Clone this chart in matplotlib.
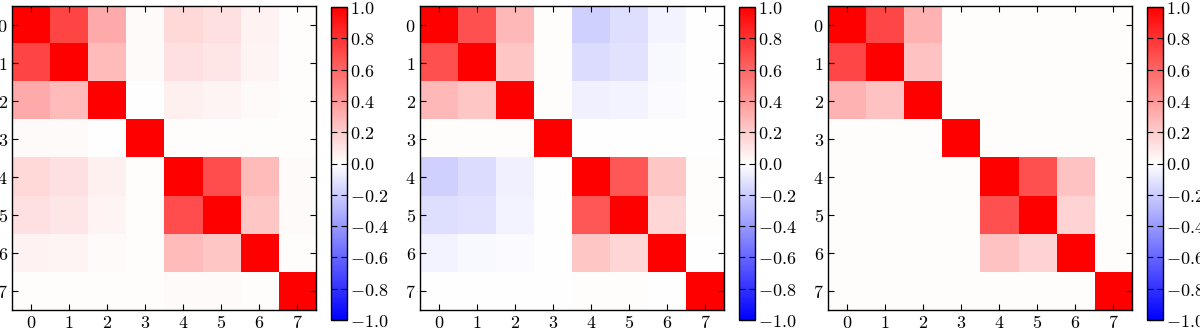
import numpy as np
import matplotlib
matplotlib.use('Agg')
import matplotlib.pyplot as plt
from matplotlib.ticker import FuncFormatter

plt.rcParams['mathtext.fontset'] = 'cm'
plt.rcParams['font.family'] = 'serif'
plt.rcParams['font.serif'] = ['DejaVu Serif']

labels = list(range(8))

# correlation matrices
corr_a = [
    [1.00, 0.73, 0.33, 0.02, 0.15, 0.12, 0.05, 0.01],
    [0.73, 1.00, 0.27, 0.02, 0.12, 0.10, 0.04, 0.01],
    [0.33, 0.27, 1.00, 0.00, 0.06, 0.04, 0.02, 0.01],
    [0.02, 0.02, 0.00, 1.00, 0.01, 0.01, 0.01, 0.01],
    [0.15, 0.12, 0.06, 0.01, 1.00, 0.70, 0.27, 0.02],
    [0.12, 0.10, 0.04, 0.01, 0.70, 1.00, 0.22, 0.02],
    [0.05, 0.04, 0.02, 0.01, 0.27, 0.22, 1.00, 0.01],
    [0.01, 0.01, 0.01, 0.01, 0.02, 0.02, 0.01, 1.00],
]
corr_b = [
    [1.00, 0.68, 0.28, 0.01, -0.18, -0.13, -0.04, 0.00],
    [0.68, 1.00, 0.22, 0.01, -0.14, -0.11, -0.03, 0.00],
    [0.28, 0.22, 1.00, 0.01, -0.06, -0.04, -0.02, 0.00],
    [0.01, 0.01, 0.01, 1.00, 0.00, 0.00, 0.00, 0.00],
    [-0.18, -0.14, -0.06, 0.00, 1.00, 0.66, 0.22, 0.01],
    [-0.13, -0.11, -0.04, 0.00, 0.66, 1.00, 0.16, 0.01],
    [-0.04, -0.03, -0.02, 0.00, 0.22, 0.16, 1.00, 0.00],
    [0.00, 0.00, 0.00, 0.00, 0.01, 0.01, 0.00, 1.00],
]
corr_c = [
    [1.00, 0.72, 0.30, 0.01, 0.01, 0.01, 0.01, 0.01],
    [0.72, 1.00, 0.24, 0.01, 0.01, 0.01, 0.01, 0.01],
    [0.30, 0.24, 1.00, 0.01, 0.01, 0.01, 0.01, 0.01],
    [0.01, 0.01, 0.01, 1.00, 0.01, 0.01, 0.01, 0.01],
    [0.01, 0.01, 0.01, 0.01, 1.00, 0.68, 0.24, 0.01],
    [0.01, 0.01, 0.01, 0.01, 0.68, 1.00, 0.17, 0.01],
    [0.01, 0.01, 0.01, 0.01, 0.24, 0.17, 1.00, 0.01],
    [0.01, 0.01, 0.01, 0.01, 0.01, 0.01, 0.01, 1.00],
]
cbar_ticks = [-1.0, -0.8, -0.6, -0.4, -0.2, 0.0, 0.2, 0.4, 0.6, 0.8, 1.0]

W, H = 1200, 328
fig = plt.figure(figsize=(W / 100, H / 100), dpi=100)

int_fmt = FuncFormatter(lambda v, p: r'$%d$' % v)
cb_fmt = FuncFormatter(lambda v, p: r'$%.1f$' % v)

lefts = [12, 420, 828]
for left, data in zip(lefts, [corr_a, corr_b, corr_c]):
    ax = fig.add_axes([left / W, (H - 310) / H, 304 / W, 304 / H])
    im = ax.imshow(np.array(data), cmap='bwr', vmin=-1, vmax=1,
                   interpolation='nearest', aspect='auto')
    ax.set_xticks(labels)
    ax.set_yticks(labels)
    ax.xaxis.set_major_formatter(int_fmt)
    ax.yaxis.set_major_formatter(int_fmt)
    ax.tick_params(direction='in', top=True, right=True, length=4,
                   labelsize=13, pad=3)
    for s in ax.spines.values():
        s.set_linewidth(1.0)

    cax = fig.add_axes([(left + 319) / W, (H - 320) / H, 16 / W, 313 / H])
    cb = fig.colorbar(im, cax=cax, ticks=cbar_ticks)
    cb.ax.yaxis.set_major_formatter(cb_fmt)
    cb.ax.tick_params(direction='in', left=True, right=True, length=4,
                      labelsize=13, pad=2)
    cb.outline.set_linewidth(1.0)

fig.savefig('out.png', dpi=100)
